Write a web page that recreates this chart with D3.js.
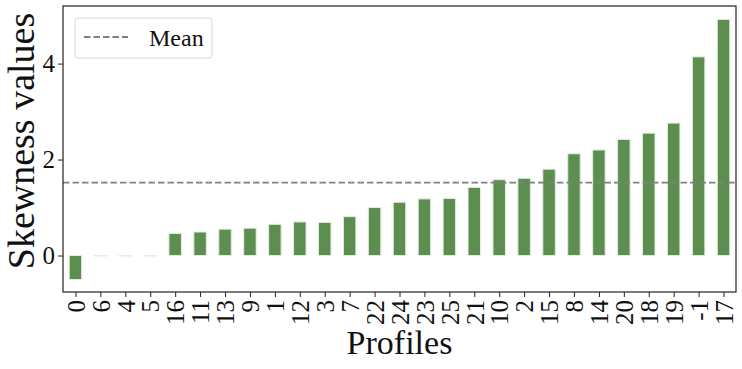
<!DOCTYPE html>
<html>
<head>
<meta charset="utf-8">
<script src="https://cdn.jsdelivr.net/npm/d3@7"></script>
<style>
  body { margin: 0; background: #fff; }
  svg text { font-family: "Liberation Serif", "DejaVu Serif", serif; fill: #111; }
</style>
</head>
<body>
<div id="chart"></div>
<script>
// profile ids, in the sorted order shown
const profiles = ['0', '6', '4', '5', '16', '11', '13', '9', '1', '12', '3', '7', '22', '24',
    '23', '25', '21', '10', '2', '15', '8', '14', '20', '18', '19', '-1', '17'];
// skewness per profile
const skewness = [-0.50, 0, 0, 0, 0.46, 0.49, 0.55, 0.57, 0.65, 0.70, 0.69, 0.81, 1.00, 1.11,
    1.18, 1.19, 1.42, 1.58, 1.61, 1.80, 2.12, 2.20, 2.42, 2.55, 2.76, 4.14, 4.92];
const meanValue = 1.52;
const yTicks = [0, 2, 4];

const width = 742, height = 369;
const margin = {top: 6, right: 6, bottom: 77, left: 63};

const svg = d3.select('#chart').append('svg')
    .attr('width', width)
    .attr('height', height);

const x = d3.scaleLinear()
    .domain([-0.5, profiles.length - 0.5])
    .range([margin.left, width - margin.right]);

const y = d3.scaleLinear()
    .domain([-0.76, 5.2])
    .range([height - margin.bottom, margin.top]);

const barW = x(0.25) - x(0);

// bars
svg.selectAll('rect.bar')
    .data(skewness)
    .enter()
    .append('rect')
    .attr('class', 'bar')
    .attr('x', (d, i) => x(i) - barW)
    .attr('width', barW * 2)
    .attr('y', d => y(Math.max(0, d)))
    .attr('height', d => Math.max(0.5, Math.abs(y(d) - y(0))))
    .attr('fill', d => d === 0 ? '#eef2ec' : '#5b8e4f')
    .attr('stroke', '#e4ecdf')
    .attr('stroke-width', 1);

// mean line
svg.append('line')
    .attr('x1', margin.left)
    .attr('x2', width - margin.right)
    .attr('y1', y(meanValue))
    .attr('y2', y(meanValue))
    .attr('stroke', '#808080')
    .attr('stroke-width', 1.8)
    .attr('stroke-dasharray', '6.5,3');

// axes
const xAxis = svg.append('g')
    .attr('transform', `translate(0,${height - margin.bottom})`)
    .attr('font-size', 25)
    .call(d3.axisBottom(x)
        .tickValues(d3.range(profiles.length))
        .tickFormat(i => profiles[i])
        .tickSize(5)
        .tickSizeOuter(0));

xAxis.selectAll('text')
    .attr('transform', 'rotate(-90)')
    .attr('text-anchor', 'end')
    .attr('x', -8)
    .attr('y', 0)
    .attr('dy', '0.35em')
    .attr('font-size', 25);

const yAxis = svg.append('g')
    .attr('transform', `translate(${margin.left},0)`)
    .call(d3.axisLeft(y)
        .tickValues(yTicks)
        .tickFormat(d3.format('d'))
        .tickSize(5)
        .tickSizeOuter(0));

yAxis.selectAll('text')
    .attr('x', -8)
    .attr('font-size', 25);

svg.selectAll('.domain').remove();
svg.selectAll('.tick line').attr('stroke', '#222').attr('stroke-width', 1);

// frame
svg.append('rect')
    .attr('x', margin.left)
    .attr('y', margin.top)
    .attr('width', width - margin.left - margin.right)
    .attr('height', height - margin.top - margin.bottom)
    .attr('fill', 'none')
    .attr('stroke', '#222')
    .attr('stroke-width', 1.2);

// axis titles
svg.append('text')
    .attr('x', (margin.left + width - margin.right) / 2)
    .attr('y', 354)
    .attr('text-anchor', 'middle')
    .attr('font-size', 34)
    .text('Profiles');

svg.append('text')
    .attr('transform', `translate(34,${(margin.top + height - margin.bottom) / 2 - 8}) rotate(-90)`)
    .attr('text-anchor', 'middle')
    .attr('font-size', 38)
    .text('Skewness values');

// legend
const legend = svg.append('g').attr('transform', 'translate(75,18)');
legend.append('rect')
    .attr('width', 137)
    .attr('height', 40)
    .attr('rx', 3)
    .attr('fill', '#fff')
    .attr('fill-opacity', 0.8)
    .attr('stroke', '#d8d8d8');
legend.append('line')
    .attr('x1', 9).attr('x2', 53)
    .attr('y1', 19).attr('y2', 19)
    .attr('stroke', '#808080')
    .attr('stroke-width', 1.8)
    .attr('stroke-dasharray', '6.5,3');
legend.append('text')
    .attr('x', 74)
    .attr('y', 28)
    .attr('font-size', 24)
    .text('Mean');
</script>
</body>
</html>
